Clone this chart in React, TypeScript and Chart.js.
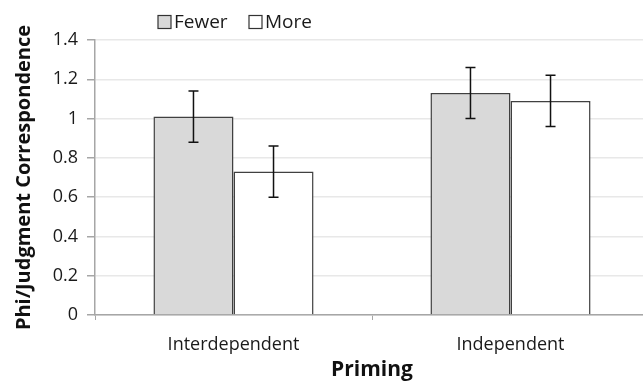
import React, { useEffect, useRef } from "react";
import { Chart, registerables } from "chart.js";

Chart.register(...registerables);

const categories = ["Interdependent", "Independent"];
const seriesLabels = ["Fewer", "More"];
const fewerValues = [1.01, 1.13];
const moreValues = [0.73, 1.09];
const fewerErrors = [0.13, 0.13];
const moreErrors = [0.13, 0.13];
const yMin = 0;
const yMax = 1.4;
const yStep = 0.2;

const seriesErrors = [fewerErrors, moreErrors];
const seriesColors = ["#d9d9d9", "#ffffff"];
const FONT = "'Open Sans', 'DejaVu Sans', sans-serif";

const errorBarPlugin = {
  id: "errorBars",
  afterDatasetsDraw(chart: any) {
    const ctx = chart.ctx;
    const yScale = chart.scales.y;
    ctx.save();
    ctx.strokeStyle = "#111111";
    ctx.lineWidth = 1.5;
    chart.data.datasets.forEach((ds: any, i: number) => {
      const meta = chart.getDatasetMeta(i);
      meta.data.forEach((bar: any, j: number) => {
        const v = ds.data[j];
        const e = seriesErrors[i][j];
        const yTop = yScale.getPixelForValue(v + e);
        const yBot = yScale.getPixelForValue(v - e);
        const x = bar.x;
        const cap = 5;
        ctx.beginPath();
        ctx.moveTo(x, yTop);
        ctx.lineTo(x, yBot);
        ctx.moveTo(x - cap, yTop);
        ctx.lineTo(x + cap, yTop);
        ctx.moveTo(x - cap, yBot);
        ctx.lineTo(x + cap, yBot);
        ctx.stroke();
      });
    });
    ctx.restore();
  },
};

const legendPlugin = {
  id: "customLegend",
  afterDraw(chart: any) {
    const ctx = chart.ctx;
    const xs = [158, 249];
    const cy = 22;
    const box = 13;
    ctx.save();
    ctx.font = `19px ${FONT}`;
    ctx.textBaseline = "middle";
    ctx.textAlign = "left";
    chart.data.datasets.forEach((ds: any, i: number) => {
      const x = xs[i];
      ctx.fillStyle = ds.backgroundColor;
      ctx.fillRect(x, cy - box / 2, box, box);
      ctx.strokeStyle = "#333333";
      ctx.lineWidth = 1.2;
      ctx.strokeRect(x, cy - box / 2, box, box);
      ctx.fillStyle = "#1a1a1a";
      ctx.fillText(ds.label, x + box + 3, cy + 1);
    });
    ctx.restore();
  },
};

export default function App() {
  const ref = useRef<HTMLCanvasElement | null>(null);
  useEffect(() => {
    if (!ref.current) return;
    const chart = new Chart(ref.current, {
      type: "bar",
      data: {
        labels: categories,
        datasets: [fewerValues, moreValues].map((vals, i) => ({
          label: seriesLabels[i],
          data: vals,
          backgroundColor: seriesColors[i],
          borderColor: "#404040",
          borderWidth: 1.5,
          categoryPercentage: 0.578,
          barPercentage: 1.0,
        })),
      },
      options: {
        responsive: false,
        animation: false,
        devicePixelRatio: 1,
        layout: { padding: { top: 40, right: 6, bottom: 0, left: 0 } },
        plugins: {
          legend: { display: false },
          tooltip: { enabled: false },
        },
        scales: {
          x: {
            offset: true,
            afterFit(scale: any) {
              scale.height = 66;
            },
            grid: {
              offset: true,
              drawOnChartArea: false,
              drawTicks: true,
              tickLength: 5,
              color: "#a6a6a6",
            },
            border: { color: "#a6a6a6", width: 1.5 },
            ticks: {
              color: "#1a1a1a",
              font: { family: FONT, size: 18 },
              padding: 14,
            },
            title: {
              display: true,
              text: "Priming",
              color: "#111111",
              font: { family: FONT, size: 21, weight: "bold" },
              padding: { top: 0, bottom: -2 },
            },
          },
          y: {
            min: yMin,
            max: yMax,
            afterFit(scale: any) {
              scale.width = 95;
            },
            ticks: {
              stepSize: yStep,
              color: "#1a1a1a",
              font: { family: FONT, size: 18 },
              padding: 9,
              callback: (v: any) => String(Math.round(Number(v) * 10) / 10),
            },
            grid: {
              color: "#e8e8e8",
              lineWidth: 1.5,
              drawTicks: true,
              tickLength: 8,
              tickColor: "#a6a6a6",
            },
            border: { color: "#a6a6a6", width: 1.5 },
            title: {
              display: true,
              text: "Phi/Judgment Correspondence",
              color: "#111111",
              font: { family: FONT, size: 20, weight: "bold" },
              padding: { top: 12, bottom: 0 },
            },
          },
        },
      },
      plugins: [errorBarPlugin, legendPlugin],
    });
    return () => chart.destroy();
  }, []);
  return (
    <div
      style={{
        position: "fixed",
        left: 0,
        top: 0,
        width: 643,
        height: 381,
        overflow: "hidden",
        background: "#ffffff",
      }}
    >
      <canvas ref={ref} width={655} height={381} style={{ display: "block" }} />
    </div>
  );
}
